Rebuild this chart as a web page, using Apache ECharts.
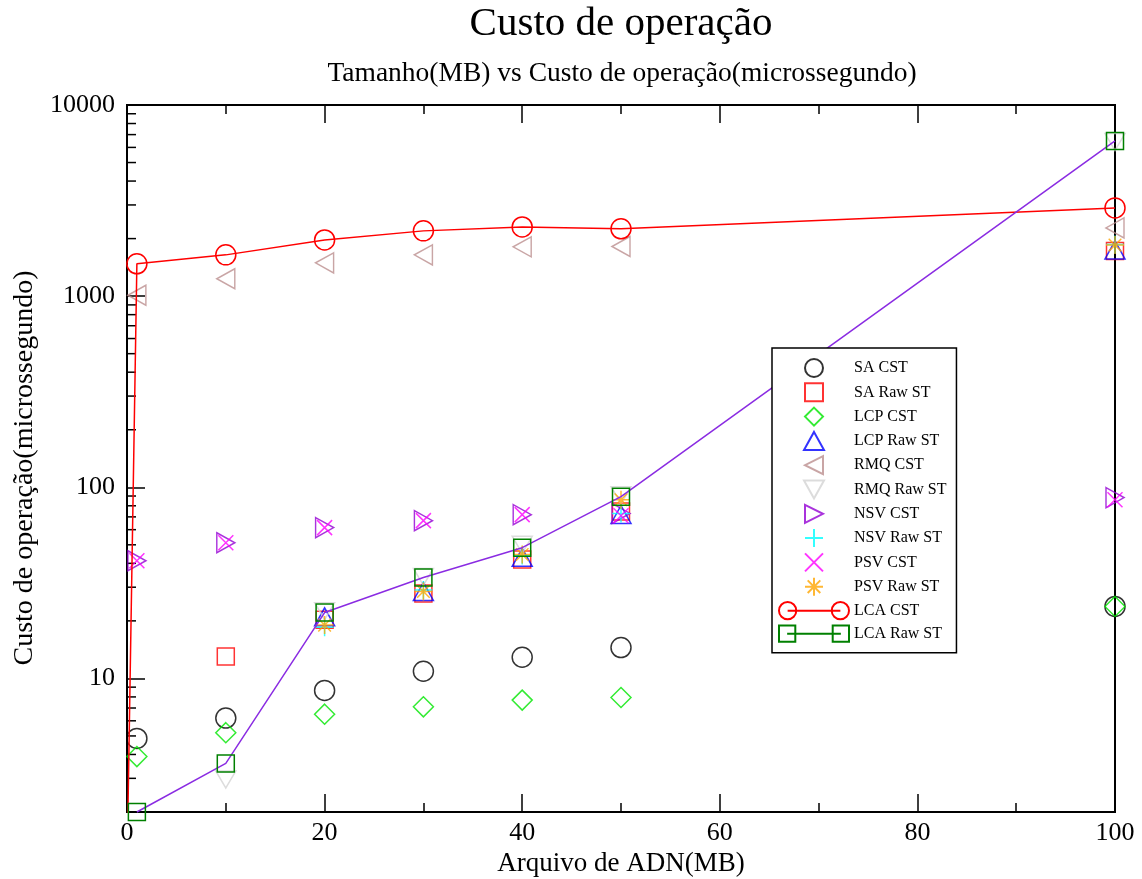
<!DOCTYPE html>
<html>
<head>
<meta charset="utf-8">
<script src="https://cdn.jsdelivr.net/npm/echarts@6/dist/echarts.min.js"></script>
<style>
  html, body { margin: 0; padding: 0; background: #fff; }
  #chart { width: 1142px; height: 879px; }
</style>
</head>
<body>
<div id="chart"></div>
<script>
// x positions (MB)
var xs = [1, 10, 20, 30, 40, 50, 100];
var xsRaw = [20, 30, 40, 50, 100];

// values (microssegundo)
var saCst = [4.85, 6.2, 8.65, 10.9, 12.9, 14.5, 23.8];
var saRawX = [10, 20, 30, 40, 50, 100];
var saRaw = [13.0, 20.3, 27.8, 41.9, 74.6, 1725];
var lcpCst = [3.9, 5.2, 6.5, 7.1, 7.7, 7.95, 23.8];
var lcpRaw = [21, 28.5, 43, 72, 1745];
var rmqCst = [1010, 1233, 1493, 1644, 1811, 1820, 2275];
var rmqRawX = [10, 20, 30, 40, 50, 100];
var rmqRaw = [2.96, 22.5, 34, 50, 91, 6400];
var nsvCst = [41.3, 51.3, 61.5, 66.9, 71.9, 73, 88.3];
var nsvRaw = [18.5, 29, 44, 73, 1860];
var psvCst = [41.3, 51.3, 61.5, 66.9, 71.9, 71, 86];
var psvRaw = [19.0, 28.5, 44.5, 86, 1850];
var lcaCstX = [0, 1, 10, 20, 30, 40, 50, 100];
var lcaCst = [1, 1476, 1644, 1968, 2195, 2302, 2250, 2895];
var lcaRaw = [2.0, 3.59, 22.1, 33.7, 48.3, 89.3, 6486];

var yTickLabels = ['10', '100', '1000', '10000'];

// minor tick positions of the log axis
var decades = [1, 10, 100, 1000];
var mults = [2, 3, 4, 5, 6, 7, 8, 9];
var minorVals = [];
decades.forEach(function (d) {
  mults.forEach(function (m) { minorVals.push([0, d * m]); });
});

function pairs(x, y) {
  return y.map(function (v, i) { return [x[i], v]; });
}

var FONT = 'Liberation Serif';

// hollow marker shapes
var SQUARE = 'path://M0,0L20,0L20,20L0,20Z';
var DIAMOND = 'path://M10,0L20,10L10,20L0,10Z';
var TRI_UP = 'path://M10,0L20,18L0,18Z';
var TRI_LEFT = 'path://M20,0L0,10L20,20Z';
var TRI_DOWN = 'path://M0,0L20,0L10,18Z';
var TRI_RIGHT = 'path://M0,0L20,10L0,20Z';
var PLUS = 'path://M10,0L10,20M0,10L20,10';
var CROSS = 'path://M0,0L20,20M20,0L0,20';
var STAR = 'path://M10,0L10,20M0,10L20,10M3,3L17,17M17,3L3,17';
// legend icons: two markers joined by a line
var ICON_CIRCLES = 'path://M0,9A9,9 0 1,1 18,9A9,9 0 1,1 0,9ZM9,9L64,9M55,9A9,9 0 1,1 73,9A9,9 0 1,1 55,9Z';
var ICON_SQUARES = 'path://M0,0L17,0L17,17L0,17ZM8.5,8.5L64.5,8.5M56,0L73,0L73,17L56,17Z';

function scat(name, sym, size, color, x, y) {
  return {
    name: name,
    type: 'scatter',
    symbol: sym,
    symbolSize: size,
    clip: false,
    itemStyle: { color: 'transparent', borderColor: color, borderWidth: 1.5 },
    emphasis: { disabled: true },
    data: pairs(x, y)
  };
}

var chart = echarts.init(document.getElementById('chart'));

var option = {
  animation: false,
  backgroundColor: '#fff',
  title: [
    {
      text: 'Custo de operação',
      left: 616,
      top: -1,
      textAlign: 'center',
      textStyle: { fontFamily: FONT, fontSize: 41, fontWeight: 'normal', color: '#000' }
    },
    {
      text: 'Tamanho(MB) vs Custo de operação(microssegundo)',
      left: 617,
      top: 55,
      textAlign: 'center',
      textStyle: { fontFamily: FONT, fontSize: 27.5, fontWeight: 'normal', color: '#000' }
    }
  ],
  graphic: [
    {
      type: 'text',
      x: 25,
      y: 468,
      rotation: Math.PI / 2,
      style: {
        text: 'Custo de operação(microssegundo)',
        fontFamily: FONT,
        fontSize: 28,
        fill: '#000',
        align: 'center',
        verticalAlign: 'middle'
      }
    }
  ],
  legend: {
    orient: 'vertical',
    left: 772,
    top: 348,
    padding: [10, 10, 10, 6],
    itemWidth: 70,
    itemHeight: 18,
    itemGap: 4.3,
    backgroundColor: '#fff',
    borderColor: '#000',
    borderWidth: 1.5,
    borderRadius: 0,
    textStyle: { fontFamily: FONT, fontSize: 16, lineHeight: 18, color: '#000' },
    data: ['SA CST', 'SA Raw ST', 'LCP CST', 'LCP Raw ST', 'RMQ CST', 'RMQ Raw ST',
           'NSV CST', 'NSV Raw ST', 'PSV CST', 'PSV Raw ST',
           { name: 'LCA CST', icon: ICON_CIRCLES },
           { name: 'LCA Raw ST', icon: ICON_SQUARES }]
  },
  grid: {
    left: 127, right: 27, top: 105, bottom: 67,
    outerBoundsMode: 'none',
    show: true, borderColor: '#000', borderWidth: 2, backgroundColor: 'transparent'
  },
  xAxis: [
    {
      type: 'value',
      min: 0, max: 100, interval: 20,
      name: 'Arquivo de ADN(MB)',
      nameLocation: 'middle',
      nameGap: 29,
      nameTextStyle: { fontFamily: FONT, fontSize: 27, color: '#000' },
      axisLine: { lineStyle: { color: '#000', width: 2 } },
      axisTick: { inside: true, length: 18, lineStyle: { color: '#000', width: 1.5 } },
      minorTick: { show: true, splitNumber: 2, length: 9, lineStyle: { color: '#000', width: 1.5 } },
      axisLabel: { fontFamily: FONT, fontSize: 26, color: '#000', margin: 8 },
      splitLine: { show: false }
    },
    {
      type: 'value',
      position: 'top',
      min: 0, max: 100, interval: 20,
      axisLine: { lineStyle: { color: '#000', width: 2 } },
      axisTick: { inside: true, length: 18, lineStyle: { color: '#000', width: 1.5 } },
      minorTick: { show: true, splitNumber: 2, length: 9, lineStyle: { color: '#000', width: 1.5 } },
      axisLabel: { show: false },
      splitLine: { show: false }
    }
  ],
  yAxis: {
    type: 'log',
    logBase: 10,
    min: 2,
    max: 10000,
    axisLine: { lineStyle: { color: '#000', width: 2 } },
    axisTick: { inside: true, length: 18, lineStyle: { color: '#000', width: 1.5 } },
    axisLabel: {
      fontFamily: FONT, fontSize: 26, color: '#000', margin: 12,
      formatter: function (v) {
        var s = String(Math.round(v));
        return yTickLabels.indexOf(s) >= 0 ? s : '';
      }
    },
    splitLine: { show: false }
  },
  series: [
    {
      name: 'minor',
      type: 'custom',
      silent: true,
      data: minorVals,
      renderItem: function (params, api) {
        var p = api.coord([0, api.value(1)]);
        return {
          type: 'line',
          shape: { x1: p[0], y1: p[1], x2: p[0] + 9, y2: p[1] },
          style: { stroke: '#000', lineWidth: 1.5 }
        };
      }
    },
    scat('SA CST', 'circle', 20, '#000000', xs, saCst),
    scat('SA Raw ST', SQUARE, 17, '#ff0000', saRawX, saRaw),
    scat('LCP CST', DIAMOND, 20, '#00e600', xs, lcpCst),
    scat('LCP Raw ST', TRI_UP, [20, 18], '#0000ff', xsRaw, lcpRaw),
    scat('RMQ CST', TRI_LEFT, [18, 20], '#bc8f8f', xs, rmqCst),
    scat('RMQ Raw ST', TRI_DOWN, [20, 17], '#d3d3d3', rmqRawX, rmqRaw),
    scat('NSV CST', TRI_RIGHT, [18, 20], '#9400d3', xs, nsvCst),
    scat('NSV Raw ST', PLUS, 18, '#00ffff', xsRaw, nsvRaw),
    scat('PSV CST', CROSS, 15, '#ff00ff', xs, psvCst),
    scat('PSV Raw ST', STAR, 18, '#ffa500', xsRaw, psvRaw),
    {
      name: 'LCA CST',
      type: 'line',
      symbol: 'circle',
      symbolSize: 20,
      showAllSymbol: true,
      clip: true,
      itemStyle: { color: 'transparent', borderColor: '#ff0000', borderWidth: 1.5 },
      lineStyle: { color: '#ff0000', width: 1.5 },
      emphasis: { disabled: true },
      data: pairs(lcaCstX, lcaCst)
    },
    {
      name: 'LCA Raw ST',
      type: 'line',
      symbol: SQUARE,
      symbolSize: 17,
      showAllSymbol: true,
      clip: false,
      itemStyle: { color: 'transparent', borderColor: '#008000', borderWidth: 1.5 },
      lineStyle: { color: '#8a2be2', width: 1.5 },
      emphasis: { disabled: true },
      data: pairs(xs, lcaRaw)
    }
  ]
};

chart.setOption(option);
</script>
</body>
</html>
